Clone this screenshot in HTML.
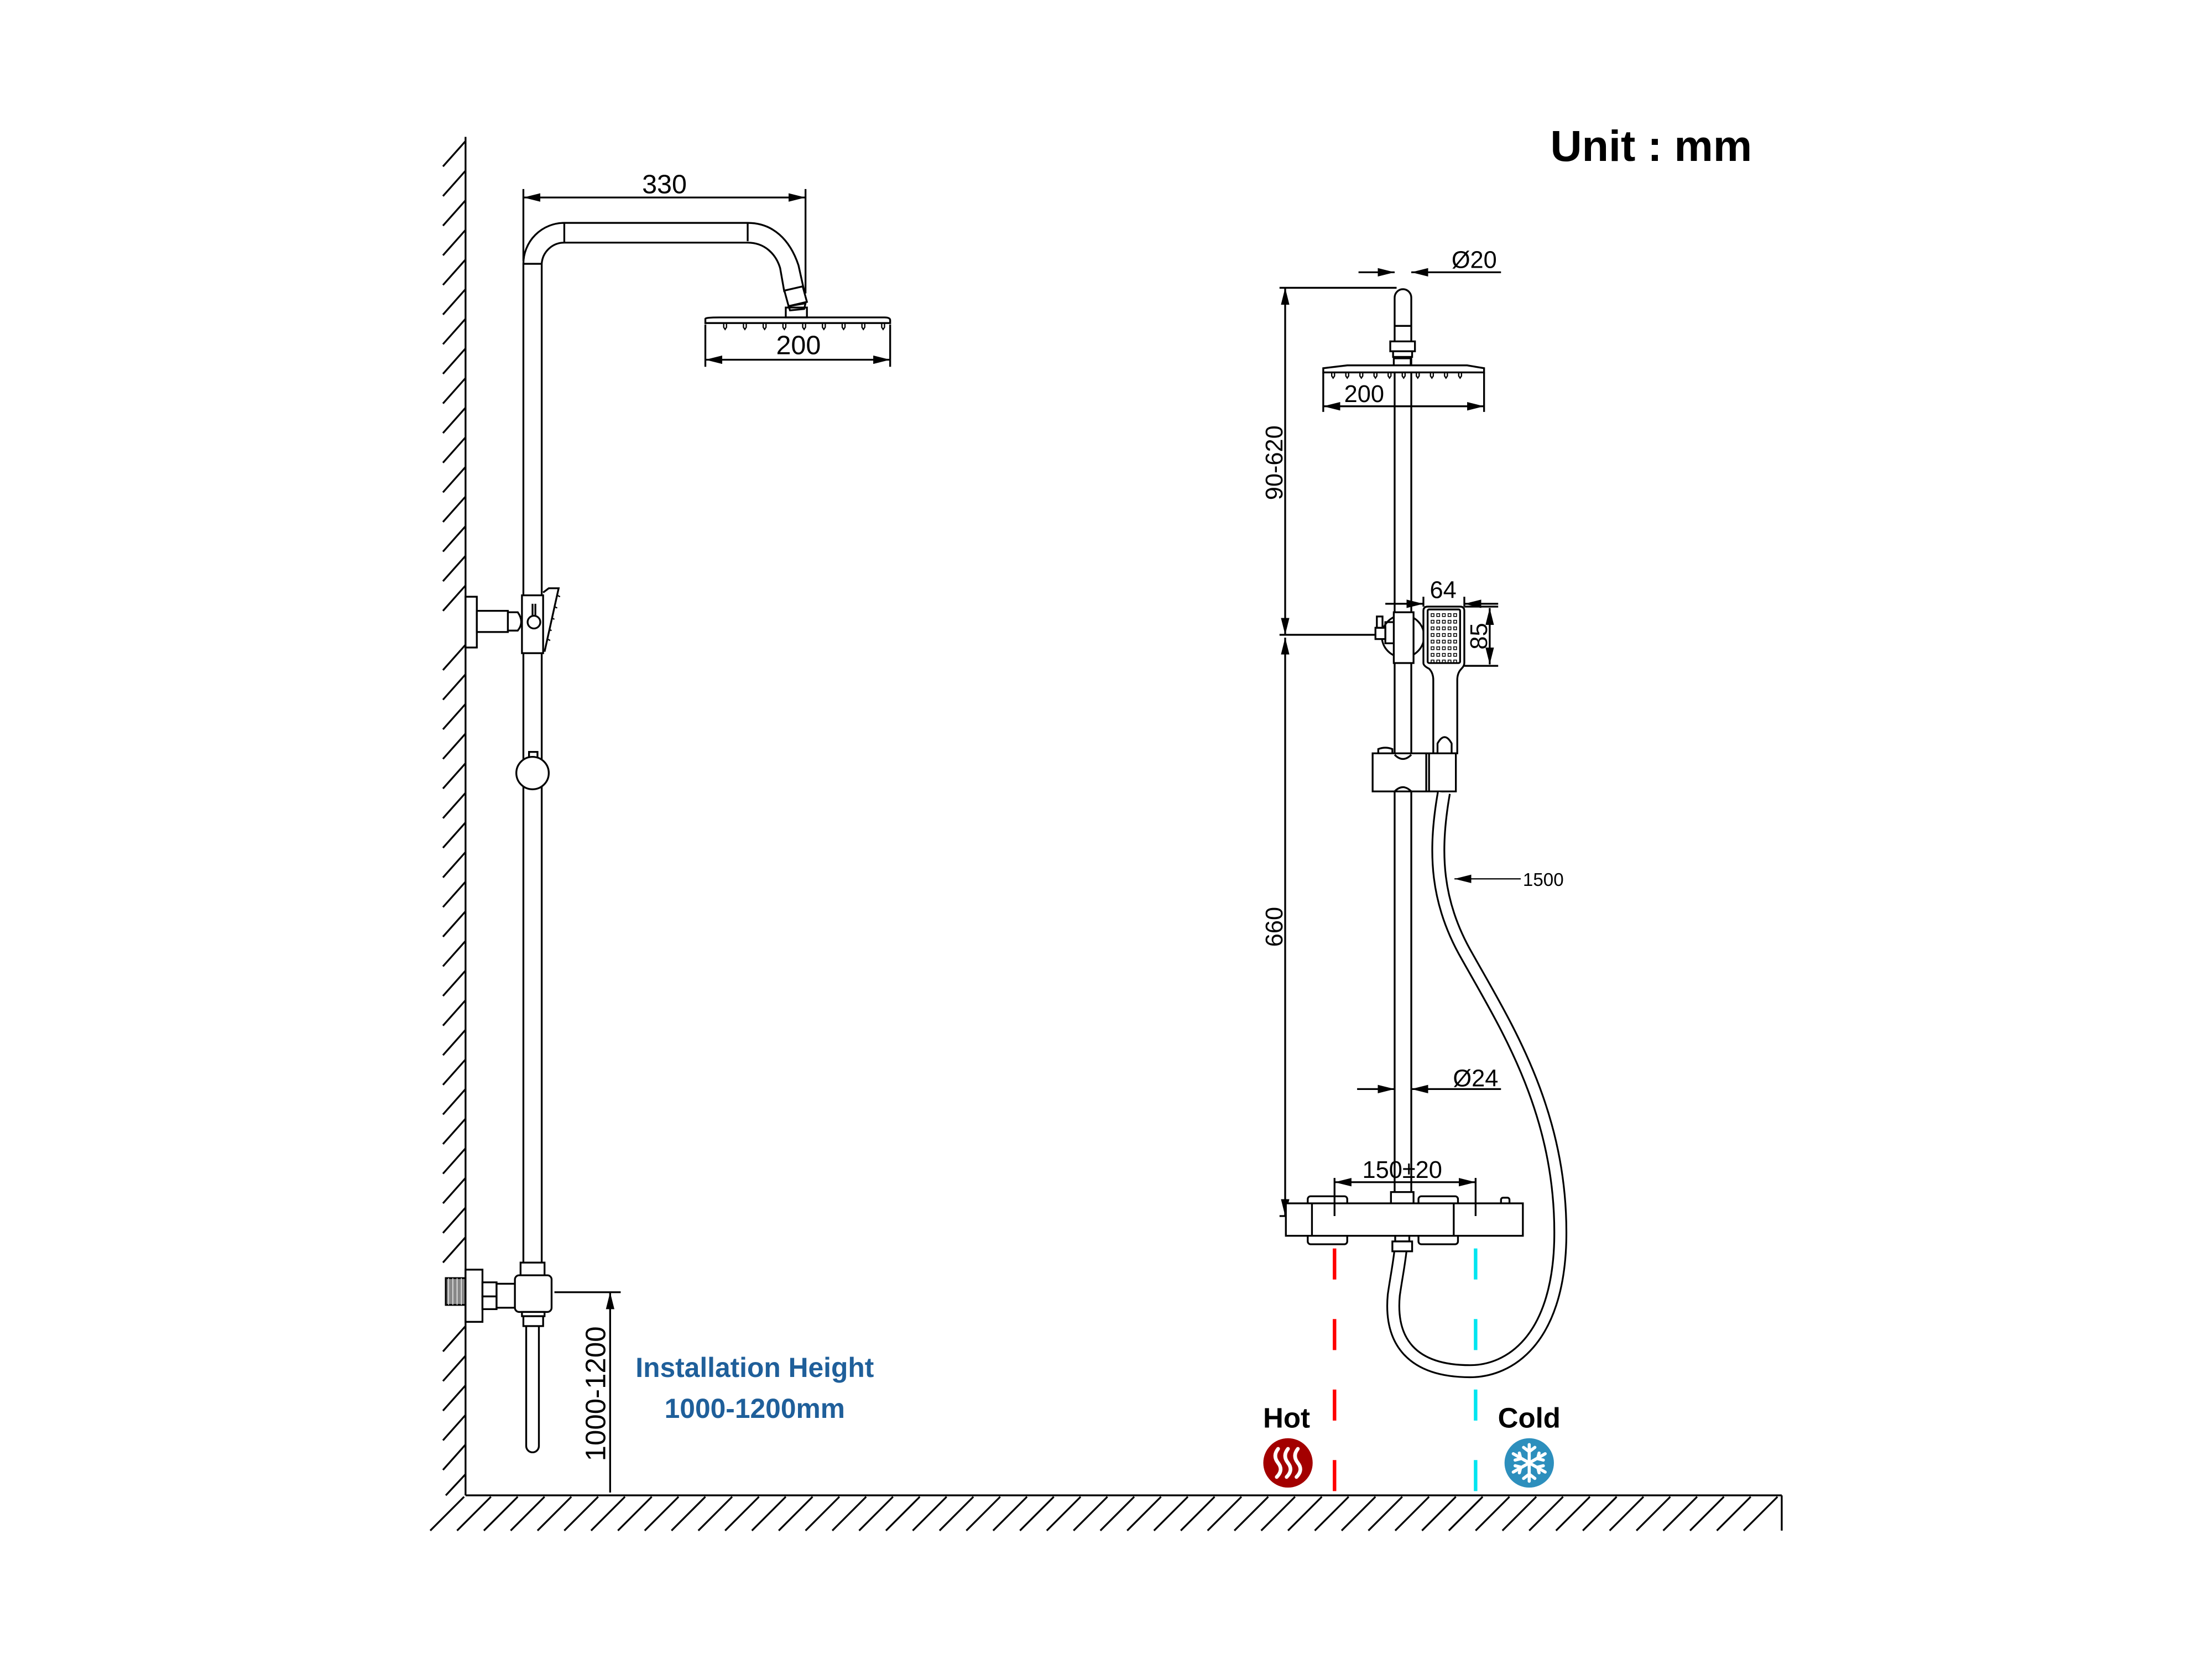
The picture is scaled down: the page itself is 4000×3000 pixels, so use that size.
<!DOCTYPE html>
<html><head><meta charset="utf-8"><style>
html,body{margin:0;padding:0;background:#fff;}
svg{display:block;}
text{font-family:"Liberation Sans",Arial,sans-serif;}
</style></head><body>
<svg width="4000" height="3000" viewBox="0 0 1568 1176" xmlns="http://www.w3.org/2000/svg">
<defs>
<marker id="a" viewBox="0 0 12 6" refX="12" refY="3" markerWidth="12" markerHeight="6" markerUnits="userSpaceOnUse" orient="auto-start-reverse"><path d="M0,0 L12,3 L0,6 Z" fill="#000"/></marker>
</defs>
<rect width="1568" height="1176" fill="#fff"/>
<g stroke="#000" stroke-width="1.3" fill="none">
<line x1="330" y1="97" x2="330" y2="1060"/>
<line x1="330" y1="1060" x2="1263" y2="1060"/>
<line x1="1263" y1="1060" x2="1263" y2="1085"/>
<g>
<line x1="330" y1="100" x2="314" y2="118"/><line x1="330" y1="121" x2="314" y2="139"/><line x1="330" y1="142" x2="314" y2="160"/><line x1="330" y1="163" x2="314" y2="181"/><line x1="330" y1="184" x2="314" y2="202"/><line x1="330" y1="205" x2="314" y2="223"/><line x1="330" y1="226" x2="314" y2="244"/><line x1="330" y1="247" x2="314" y2="265"/><line x1="330" y1="268" x2="314" y2="286"/><line x1="330" y1="289" x2="314" y2="307"/><line x1="330" y1="310" x2="314" y2="328"/><line x1="330" y1="331" x2="314" y2="349"/><line x1="330" y1="352" x2="314" y2="370"/><line x1="330" y1="373" x2="314" y2="391"/><line x1="330" y1="394" x2="314" y2="412"/><line x1="330" y1="415" x2="314" y2="433"/><line x1="330" y1="457" x2="314" y2="475"/><line x1="330" y1="478" x2="314" y2="496"/><line x1="330" y1="499" x2="314" y2="517"/><line x1="330" y1="520" x2="314" y2="538"/><line x1="330" y1="541" x2="314" y2="559"/><line x1="330" y1="562" x2="314" y2="580"/><line x1="330" y1="583" x2="314" y2="601"/><line x1="330" y1="604" x2="314" y2="622"/><line x1="330" y1="625" x2="314" y2="643"/><line x1="330" y1="646" x2="314" y2="664"/><line x1="330" y1="667" x2="314" y2="685"/><line x1="330" y1="688" x2="314" y2="706"/><line x1="330" y1="709" x2="314" y2="727"/><line x1="330" y1="730" x2="314" y2="748"/><line x1="330" y1="751" x2="314" y2="769"/><line x1="330" y1="772" x2="314" y2="790"/><line x1="330" y1="793" x2="314" y2="811"/><line x1="330" y1="814" x2="314" y2="832"/><line x1="330" y1="835" x2="314" y2="853"/><line x1="330" y1="856" x2="314" y2="874"/><line x1="330" y1="877" x2="314" y2="895"/><line x1="330" y1="940" x2="314" y2="958"/><line x1="330" y1="961" x2="314" y2="979"/><line x1="330" y1="982" x2="314" y2="1000"/><line x1="330" y1="1003" x2="314" y2="1021"/><line x1="330" y1="1024" x2="314" y2="1042"/><line x1="330" y1="1045" x2="316" y2="1060"/>
</g>
<g>
<line x1="305" y1="1085" x2="329" y2="1061"/><line x1="324" y1="1085" x2="348" y2="1061"/><line x1="343" y1="1085" x2="367" y2="1061"/><line x1="362" y1="1085" x2="386" y2="1061"/><line x1="381" y1="1085" x2="405" y2="1061"/><line x1="400" y1="1085" x2="424" y2="1061"/><line x1="419" y1="1085" x2="443" y2="1061"/><line x1="438" y1="1085" x2="462" y2="1061"/><line x1="457" y1="1085" x2="481" y2="1061"/><line x1="476" y1="1085" x2="500" y2="1061"/><line x1="495" y1="1085" x2="519" y2="1061"/><line x1="514" y1="1085" x2="538" y2="1061"/><line x1="533" y1="1085" x2="557" y2="1061"/><line x1="552" y1="1085" x2="576" y2="1061"/><line x1="571" y1="1085" x2="595" y2="1061"/><line x1="590" y1="1085" x2="614" y2="1061"/><line x1="609" y1="1085" x2="633" y2="1061"/><line x1="628" y1="1085" x2="652" y2="1061"/><line x1="647" y1="1085" x2="671" y2="1061"/><line x1="666" y1="1085" x2="690" y2="1061"/><line x1="685" y1="1085" x2="709" y2="1061"/><line x1="704" y1="1085" x2="728" y2="1061"/><line x1="723" y1="1085" x2="747" y2="1061"/><line x1="742" y1="1085" x2="766" y2="1061"/><line x1="761" y1="1085" x2="785" y2="1061"/><line x1="780" y1="1085" x2="804" y2="1061"/><line x1="799" y1="1085" x2="823" y2="1061"/><line x1="818" y1="1085" x2="842" y2="1061"/><line x1="837" y1="1085" x2="861" y2="1061"/><line x1="856" y1="1085" x2="880" y2="1061"/><line x1="875" y1="1085" x2="899" y2="1061"/><line x1="894" y1="1085" x2="918" y2="1061"/><line x1="913" y1="1085" x2="937" y2="1061"/><line x1="932" y1="1085" x2="956" y2="1061"/><line x1="951" y1="1085" x2="975" y2="1061"/><line x1="970" y1="1085" x2="994" y2="1061"/><line x1="989" y1="1085" x2="1013" y2="1061"/><line x1="1008" y1="1085" x2="1032" y2="1061"/><line x1="1027" y1="1085" x2="1051" y2="1061"/><line x1="1046" y1="1085" x2="1070" y2="1061"/><line x1="1065" y1="1085" x2="1089" y2="1061"/><line x1="1084" y1="1085" x2="1108" y2="1061"/><line x1="1103" y1="1085" x2="1127" y2="1061"/><line x1="1122" y1="1085" x2="1146" y2="1061"/><line x1="1141" y1="1085" x2="1165" y2="1061"/><line x1="1160" y1="1085" x2="1184" y2="1061"/><line x1="1179" y1="1085" x2="1203" y2="1061"/><line x1="1198" y1="1085" x2="1222" y2="1061"/><line x1="1217" y1="1085" x2="1241" y2="1061"/><line x1="1236" y1="1085" x2="1260" y2="1061"/>
</g>

<path d="M371,895 L371,187 A29,29 0 0 1 400,158 L530,158 C548,158 560,170 566,188 L570,206"/>
<path d="M384,895 L384,187 A16,16 0 0 1 400,172 L530,172 C542,172 550,180 553,190 L556,207"/>
<line x1="371" y1="187" x2="384" y2="187"/>
<line x1="400" y1="158" x2="400" y2="172"/>
<line x1="530" y1="158" x2="530" y2="171"/>
<path d="M556,206 L569,203 L572,214 L559,217 Z"/>
<path d="M559,217 L571,215 L570,219 L560,220 Z"/>
<rect x="557" y="218" width="15" height="7"/>
<path d="M500,228 L500,226 Q500,225 510,225 L627,225 Q631,225 631,227 L631,229 L500,229 Z"/>
<g stroke-width="0.9">
<path d="M513,229 v3 l1,1.5 l1,-1.5 v-3"/><path d="M527,229 v3 l1,1.5 l1,-1.5 v-3"/><path d="M541,229 v3 l1,1.5 l1,-1.5 v-3"/><path d="M555,229 v3 l1,1.5 l1,-1.5 v-3"/><path d="M569,229 v3 l1,1.5 l1,-1.5 v-3"/><path d="M583,229 v3 l1,1.5 l1,-1.5 v-3"/><path d="M597,229 v3 l1,1.5 l1,-1.5 v-3"/><path d="M611,229 v3 l1,1.5 l1,-1.5 v-3"/><path d="M625,229 v3 l1,1.5 l1,-1.5 v-3"/>
</g>
<line x1="371" y1="185" x2="371" y2="134"/>
<line x1="571" y1="208" x2="571" y2="134"/>
<line x1="371" y1="140" x2="571" y2="140" marker-start="url(#a)" marker-end="url(#a)"/>
<line x1="500" y1="230" x2="500" y2="260"/>
<line x1="631" y1="230" x2="631" y2="260"/>
<line x1="500" y1="255" x2="631" y2="255" marker-start="url(#a)" marker-end="url(#a)"/>
<rect x="330" y="423" width="8" height="36" fill="#fff"/>
<rect x="338" y="433" width="22" height="15" fill="#fff"/>
<path d="M360,434 L367,434 Q372,441 367,447 L360,447"/>
<rect x="370" y="422" width="15" height="41" fill="#fff"/>
<line x1="377.5" y1="428" x2="377.5" y2="437"/><line x1="379.5" y1="428" x2="379.5" y2="437"/>
<circle cx="378.5" cy="441" r="4.5" fill="#fff"/>
<path d="M385,420 L389,417 L396,417 L386,462"/>
<g stroke-width="0.9"><path d="M395,422 l2,1"/><path d="M393,430 l2,1"/><path d="M391,438 l2,1"/><path d="M389,446 l2,1"/><path d="M388,453 l2,1"/></g>
<rect x="375" y="533" width="6" height="5" fill="#fff"/>
<circle cx="377.5" cy="548" r="11.5" fill="#fff"/>
<rect x="316" y="906" width="14" height="19" fill="#888" stroke="#000"/>
<g stroke="#fff" stroke-width="0.5"><line x1="318" y1="906" x2="318" y2="925"/><line x1="321" y1="906" x2="321" y2="925"/><line x1="324" y1="906" x2="324" y2="925"/><line x1="327" y1="906" x2="327" y2="925"/></g>
<rect x="330" y="900" width="12" height="37" fill="#fff"/>
<rect x="342" y="909" width="10" height="10" fill="#fff"/>
<rect x="342" y="919" width="10" height="9" fill="#fff"/>
<rect x="352" y="910" width="13" height="17" fill="#fff"/>
<rect x="369" y="895" width="17" height="9" fill="#fff"/>
<rect x="365" y="904" width="26" height="26" rx="3" fill="#fff"/>
<rect x="370" y="930" width="16" height="3" fill="#fff"/>
<rect x="371" y="933" width="14" height="7" fill="#fff"/>
<path d="M373,940 L373,1025 A4.5,4.5 0 0 0 382,1025 L382,940"/>
<line x1="393" y1="916" x2="440" y2="916"/>
<line x1="432.5" y1="1058" x2="432.5" y2="916" marker-end="url(#a)"/>

<path d="M988.6,860 L988.6,211 A5.9,6 0 0 1 1000.4,211 L1000.4,860"/>
<line x1="988.6" y1="231" x2="1000.4" y2="231"/>
<rect x="985.5" y="242" width="17.5" height="7" fill="#fff"/>
<rect x="987.5" y="249" width="13.5" height="4" fill="#fff"/>
<rect x="988" y="254" width="12" height="6" fill="#fff"/>
<path d="M938,263.5 L938,261 L955,259 L1040,259 L1052,261 L1052,264 L938,264 Z" fill="#fff"/>
<g stroke-width="0.9">
<path d="M944,264 v2.5 l1,1.5 l1,-1.5 v-2.5"/><path d="M954,264 v2.5 l1,1.5 l1,-1.5 v-2.5"/><path d="M964,264 v2.5 l1,1.5 l1,-1.5 v-2.5"/><path d="M974,264 v2.5 l1,1.5 l1,-1.5 v-2.5"/><path d="M984,264 v2.5 l1,1.5 l1,-1.5 v-2.5"/><path d="M994,264 v2.5 l1,1.5 l1,-1.5 v-2.5"/><path d="M1004,264 v2.5 l1,1.5 l1,-1.5 v-2.5"/><path d="M1014,264 v2.5 l1,1.5 l1,-1.5 v-2.5"/><path d="M1024,264 v2.5 l1,1.5 l1,-1.5 v-2.5"/><path d="M1034,264 v2.5 l1,1.5 l1,-1.5 v-2.5"/>
</g>
<line x1="963" y1="193" x2="988.6" y2="193" marker-end="url(#a)"/>
<line x1="1064" y1="193" x2="1000.4" y2="193" marker-end="url(#a)"/>
<line x1="938" y1="264" x2="938" y2="292"/><line x1="1052" y1="264" x2="1052" y2="292"/>
<line x1="938" y1="288" x2="1052" y2="288" marker-start="url(#a)" marker-end="url(#a)"/>
<line x1="907" y1="204" x2="990" y2="204"/>
<line x1="911" y1="204" x2="911" y2="450" marker-start="url(#a)" marker-end="url(#a)"/>
<line x1="911" y1="452" x2="911" y2="862" marker-start="url(#a)" marker-end="url(#a)"/>
<line x1="907" y1="450" x2="975" y2="450"/>
<line x1="907" y1="862" x2="935" y2="862"/>
<line x1="962" y1="772" x2="988.6" y2="772" marker-end="url(#a)"/>
<line x1="1064" y1="772" x2="1000.4" y2="772" marker-end="url(#a)"/>
<circle cx="994.5" cy="451" r="15" fill="#fff"/>
<rect x="988" y="434" width="14" height="36" fill="#fff"/>
<path d="M988,441 L982,441 L982,456 L988,456"/>
<rect x="975" y="445" width="7" height="8" fill="#fff"/>
<rect x="976" y="437" width="4" height="8" fill="#fff"/>
<path d="M1012,430 L1035,430 Q1038,430 1038,433 L1038,470 Q1038,472 1036,474 Q1033,477 1033,482 L1033,534 L1016,534 L1016,482 Q1016,477 1013,474 Q1009,472 1009,470 L1009,433 Q1009,430 1012,430 Z" fill="#fff"/>
<rect x="1012" y="432" width="23" height="38" rx="1" fill="#fff"/>
<g stroke-width="0.6">
<g id="r1"><rect x="1014.5" y="435" width="2" height="2"/><rect x="1018.5" y="435" width="2" height="2"/><rect x="1022.5" y="435" width="2" height="2"/><rect x="1026.5" y="435" width="2" height="2"/><rect x="1030.5" y="435" width="2" height="2"/></g>
<use href="#r1" y="4.7"/><use href="#r1" y="9.4"/><use href="#r1" y="14.1"/><use href="#r1" y="18.8"/><use href="#r1" y="23.5"/><use href="#r1" y="28.2"/><use href="#r1" y="32.9"/>
</g>
<path d="M1019,534 L1019,527 Q1024,518 1029,527 L1029,534" fill="#fff"/>
<path d="M973,534 L1032,534 L1032,561 L973,561 Z" fill="#fff"/>
<line x1="1011" y1="534" x2="1011" y2="561"/><line x1="1013" y1="534" x2="1013" y2="561"/>
<path d="M988.6,535 Q994.5,541 1000.4,535"/><path d="M988.6,561 Q994.5,555 1000.4,561"/>
<path d="M977,534 L977,531 Q982,529 987,531 L987,534"/>
<line x1="1009" y1="423" x2="1009" y2="430"/><line x1="1038" y1="423" x2="1038" y2="430"/>
<line x1="982" y1="428" x2="1009" y2="428" marker-end="url(#a)"/>
<line x1="1062" y1="428" x2="1038" y2="428" marker-end="url(#a)"/>
<line x1="1038" y1="430" x2="1062" y2="430"/><line x1="1038" y1="472" x2="1062" y2="472"/>
<line x1="1056" y1="431" x2="1056" y2="471" marker-start="url(#a)" marker-end="url(#a)"/>
<path d="M1023.5,562 C1016,605 1018,640 1040,678 C1068,728 1108,790 1106,880 C1104,950 1070,972 1042,972 C1000,972 985,950 988,918 C990,904 992,895 993,884" stroke="#000" stroke-width="9.8" stroke-linecap="butt"/>
<path d="M1023.5,562 C1016,605 1018,640 1040,678 C1068,728 1108,790 1106,880 C1104,950 1070,972 1042,972 C1000,972 985,950 988,918 C990,904 992,895 993,884" stroke="#fff" stroke-width="7.3"/>
<line x1="1078" y1="623" x2="1031" y2="623" marker-end="url(#a)" stroke-width="0.9"/>
<rect x="927" y="848" width="28" height="34" rx="2" fill="#fff"/>
<rect x="1005.5" y="848" width="28" height="34" rx="2" fill="#fff"/>
<rect x="986" y="845" width="16" height="9" fill="#fff"/>
<rect x="1064" y="849" width="6" height="5" rx="1.5" fill="#fff"/>
<rect x="911.5" y="853" width="168" height="23" fill="#fff"/>
<line x1="930" y1="853" x2="930" y2="876"/><line x1="1030.5" y1="853" x2="1030.5" y2="876"/>
<rect x="989" y="876" width="10" height="4" fill="#fff"/>
<rect x="987" y="880" width="14" height="7" fill="#fff"/>
<line x1="946" y1="862" x2="946" y2="835"/><line x1="1046" y1="862" x2="1046" y2="835"/>
<line x1="946" y1="838" x2="1046" y2="838" marker-start="url(#a)" marker-end="url(#a)"/>
</g>
<line x1="946" y1="885" x2="946" y2="1060" stroke="#ff0000" stroke-width="2.5" stroke-dasharray="22 28"/>
<line x1="1046" y1="885" x2="1046" y2="1060" stroke="#00e5f0" stroke-width="2.5" stroke-dasharray="22 28"/>
<circle cx="913" cy="1037" r="17.5" fill="#a30000"/>
<g stroke="#fff" stroke-width="2.6" fill="none" stroke-linecap="round">
<path d="M906,1027 q-4,5 0,10 q4,5 -1,10"/><path d="M913,1027 q-4,5 0,10 q4,5 -1,10"/><path d="M920,1027 q-4,5 0,10 q4,5 -1,10"/>
</g>
<circle cx="1084" cy="1037" r="17.5" fill="#2d8fbd"/>
<g stroke="#fff" stroke-width="2.2" fill="none" stroke-linecap="round">
<line x1="1084" y1="1024" x2="1084" y2="1050"/><line x1="1072.7" y1="1030.5" x2="1095.3" y2="1043.5"/><line x1="1072.7" y1="1043.5" x2="1095.3" y2="1030.5"/>
<path d="M1080,1026 l4,3 l4,-3 M1080,1048 l4,-3 l4,3 M1074,1035 l4,-1 l-1,-4 M1094,1039 l-4,1 l1,4 M1074,1039 l4,1 l-1,4 M1094,1035 l-4,-1 l1,-4"/>
</g>
<g fill="#000">
<text x="1099" y="114" font-size="31" font-weight="bold">Unit : mm</text>
<text x="471" y="137" font-size="19" text-anchor="middle">330</text>
<text x="566" y="251" font-size="19" text-anchor="middle">200</text>
<text x="1045" y="190" font-size="17" text-anchor="middle">Ø20</text>
<text x="967" y="285" font-size="17" text-anchor="middle">200</text>
<text x="1023" y="424" font-size="17" text-anchor="middle">64</text>
<text transform="translate(1054,451) rotate(-90)" font-size="17" text-anchor="middle">85</text>
<text transform="translate(909,328) rotate(-90)" font-size="17" text-anchor="middle">90-620</text>
<text transform="translate(909,657) rotate(-90)" font-size="17" text-anchor="middle">660</text>
<text x="1094" y="628" font-size="13" text-anchor="middle">1500</text>
<text x="1046" y="770" font-size="17" text-anchor="middle">Ø24</text>
<text x="994" y="835" font-size="17" text-anchor="middle">150±20</text>
<text transform="translate(429,988) rotate(-90)" font-size="20" text-anchor="middle">1000-1200</text>
<text x="912" y="1012" font-size="20" font-weight="bold" text-anchor="middle">Hot</text>
<text x="1084" y="1012" font-size="20" font-weight="bold" text-anchor="middle">Cold</text>
</g>
<g fill="#1f5f9a" font-size="19.5" font-weight="bold">
<text x="535" y="976" text-anchor="middle">Installation Height</text>
<text x="535" y="1005" text-anchor="middle">1000-1200mm</text>
</g>
</svg>
</body></html>
